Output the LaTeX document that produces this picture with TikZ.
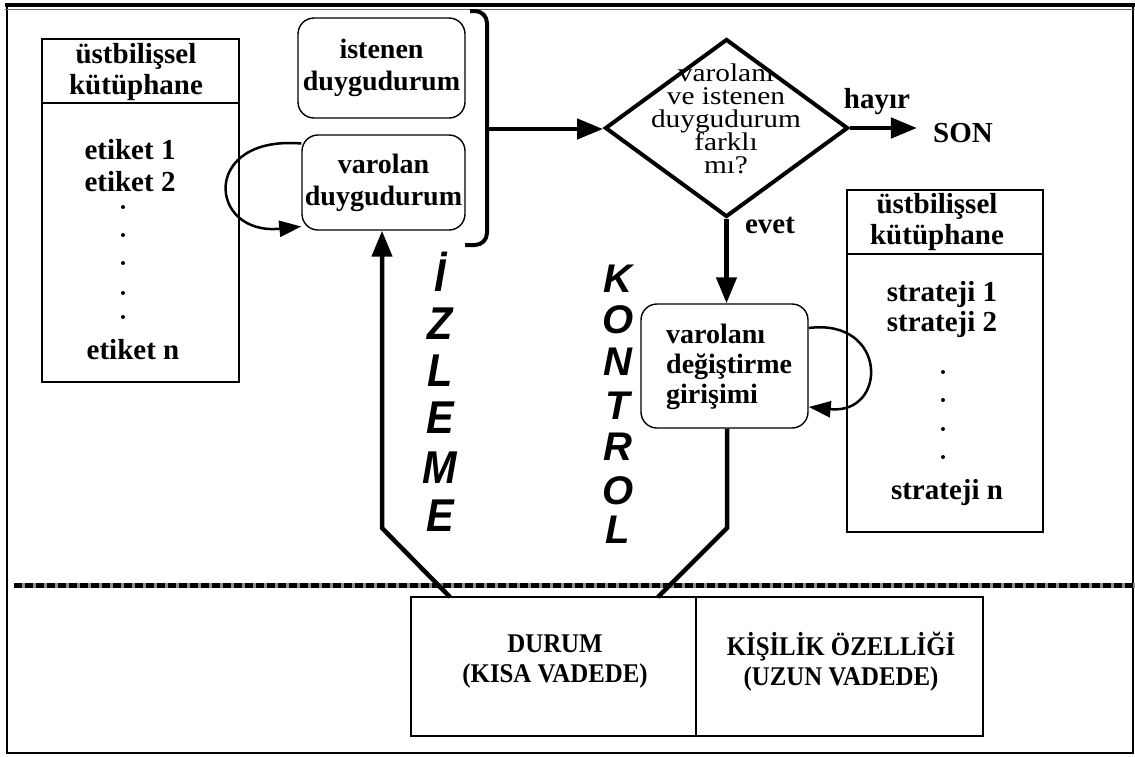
\documentclass[tikz,border=0pt]{standalone}
\usepackage{fontspec}
\setmainfont{Liberation Serif}
\newfontfamily\heavyfont{Liberation Sans}
\usetikzlibrary{arrows.meta,shapes.geometric}
\newcommand\mytightlines{\lineskiplimit=-50pt\lineskip=0pt\relax}
\begin{document}
\begin{tikzpicture}[x=1pt,y=-1pt,
  libbox/.style={draw, line width=2pt, inner sep=0pt},
  rbox/.style={draw, line width=1.4pt, rounded corners=16pt, inner sep=0pt},
  lbl/.style={font=\fontsize{29}{31}\selectfont\bfseries, align=center, inner sep=0pt},
  plain/.style={font=\fontsize{25.5}{23}\selectfont\mytightlines, align=center, inner sep=0pt, xscale=1.15},
  bottomlbl/.style={font=\fontsize{27}{30}\selectfont\bfseries, align=center, inner sep=0pt, xscale=0.92},
  thickarrow/.style={line width=4.5pt, -{Triangle[length=26pt,width=20pt]}},
  thickline/.style={line width=4.5pt},
  looparrow/.style={line width=2.5pt, -{Triangle[length=22pt,width=16pt]}},
  vwordA/.style={font=\heavyfont\fontsize{46}{46}\selectfont\bfseries\itshape, inner sep=0pt, xscale=0.9},
  vwordB/.style={font=\heavyfont\fontsize{40}{40}\selectfont\bfseries\itshape, inner sep=0pt},
]
\useasboundingbox (0,0) rectangle (1135,756);
\fill[white] (0,0) rectangle (1135,756);

% outer frame
\draw[line width=2pt] (7,6) -- (7,753) -- (1133,753) -- (1133,6);
\draw[line width=3.5pt] (5,5) -- (1135,5);
\draw[line width=1.2pt, black!60] (5,9.5) -- (1135,9.5);

% left library
\node[libbox, minimum width=197pt, minimum height=343pt] (lib1) at (140.5,210.5) {};
\draw[line width=2pt] (42,103) -- (239,103);
\node[lbl] (lib1h) at (136,72) {üstbilişsel\\kütüphane};
\node[lbl] (et1) at (130,150) {etiket 1};
\node[lbl] (et2) at (130,182) {etiket 2};
\foreach \yy in {207,235,263,293,317} \fill (123,\yy) circle (2pt);
\node[lbl] (etn) at (133,350) {etiket n};

% state boxes
\node[rbox, minimum width=167pt, minimum height=100pt] (ist) at (381.5,68) {};
\node[lbl, font=\fontsize{28}{32}\selectfont\bfseries] at (ist) {istenen\\duygudurum};
\node[rbox, minimum width=163pt, minimum height=95pt] (var) at (383.5,182.5) {};
\node[lbl, font=\fontsize{28}{32}\selectfont\bfseries] at (var) {varolan\\duygudurum};

% bracket
\draw[line width=4pt, rounded corners=12pt] (470,11) -- (487,11) -- (487,245) -- (465,245);
\coordinate (br) at (487,129);

% loop on varolan
\draw[looparrow] ([yshift=39pt]var.west) .. controls (200,135) and (208,236) .. ([yshift=-44pt]var.west);

% diamond
\node[draw, diamond, line width=4pt, minimum width=243pt, minimum height=178pt, inner sep=0pt] (dia) at (726.5,128) {};
\node[plain] (diatext) at (726,119) {varolanı\\ve istenen\\duygudurum\\farklı\\mı?};
\draw[thickarrow] (br) -- (br -| dia.west);

% hayir / SON
\node[lbl] (hayir) at (877,102) {hayır};
\node[lbl] (son) at (963,133) {SON};
\draw[thickarrow, shorten >=16pt] (dia.east) -- (dia.east -| son.west);

% evet
\node[lbl] (evet) at (770,225) {evet};

% change attempt box
\node[rbox, minimum width=167pt, minimum height=124pt] (chg) at (724.5,366) {};
\node[lbl, align=left, anchor=west, font=\fontsize{28}{30}\selectfont\bfseries] (chgt) at (666,367) {varolanı\\değiştirme\\girişimi};
\draw[thickarrow] (dia.south) -- (dia.south |- chg.north);

% right library
\node[libbox, minimum width=196pt, minimum height=342pt] (lib2) at (945,361) {};
\draw[line width=2pt] (847,254) -- (1043,254);
\node[lbl] (lib2h) at (937,222) {üstbilişsel\\kütüphane};
\node[lbl] (st1) at (942,295) {strateji 1};
\node[lbl] (st2) at (942,325) {strateji 2};
\foreach \yy in {372,400,429,457} \fill (943,\yy) circle (2pt);
\node[lbl] (stn) at (947,493) {strateji n};

% loop on change box
\draw[looparrow] ([yshift=38pt]chg.east) .. controls (888,318) and (888,415) .. ([yshift=-41pt]chg.east);

% vertical words
\foreach \ch/\yy in {İ/272, Z/324, L/371, E/418, M/468, E/516}
  \node[vwordA] at (440,\yy) {\ch};
\foreach \ch/\yy in {K/279, O/320, N/362, T/406, R/447, O/491, L/530}
  \node[vwordB] at (618,\yy) {\ch};

% dashed separator
\draw[line width=5pt, black!45] (14,585) -- (1135,585);
\draw[line width=5pt, dash pattern=on 8pt off 3pt] (14,585) -- (1135,585);

% bottom boxes
\node[libbox, minimum width=285pt, minimum height=139pt] (durum) at (553.5,666.5) {};
\node[libbox, minimum width=287pt, minimum height=139pt] (kisilik) at (839.5,666.5) {};
\node[bottomlbl] (durumt) at (555,662) {DURUM\\(KISA VADEDE)};
\node[bottomlbl] (kisilikt) at (841,662) {KİŞİLİK ÖZELLİĞİ\\(UZUN VADEDE)};

% monitoring path
\coordinate (mstart) at (450,597);
\coordinate (mbend) at (382,528);
\draw[thickarrow] (mstart) -- (mbend) -- (mbend |- var.south);

% control path
\coordinate (cbend) at (727,528);
\coordinate (cend) at (658,597);
\draw[thickline] (cbend |- chg.south) -- (cbend) -- (cend);
\end{tikzpicture}
\end{document}
